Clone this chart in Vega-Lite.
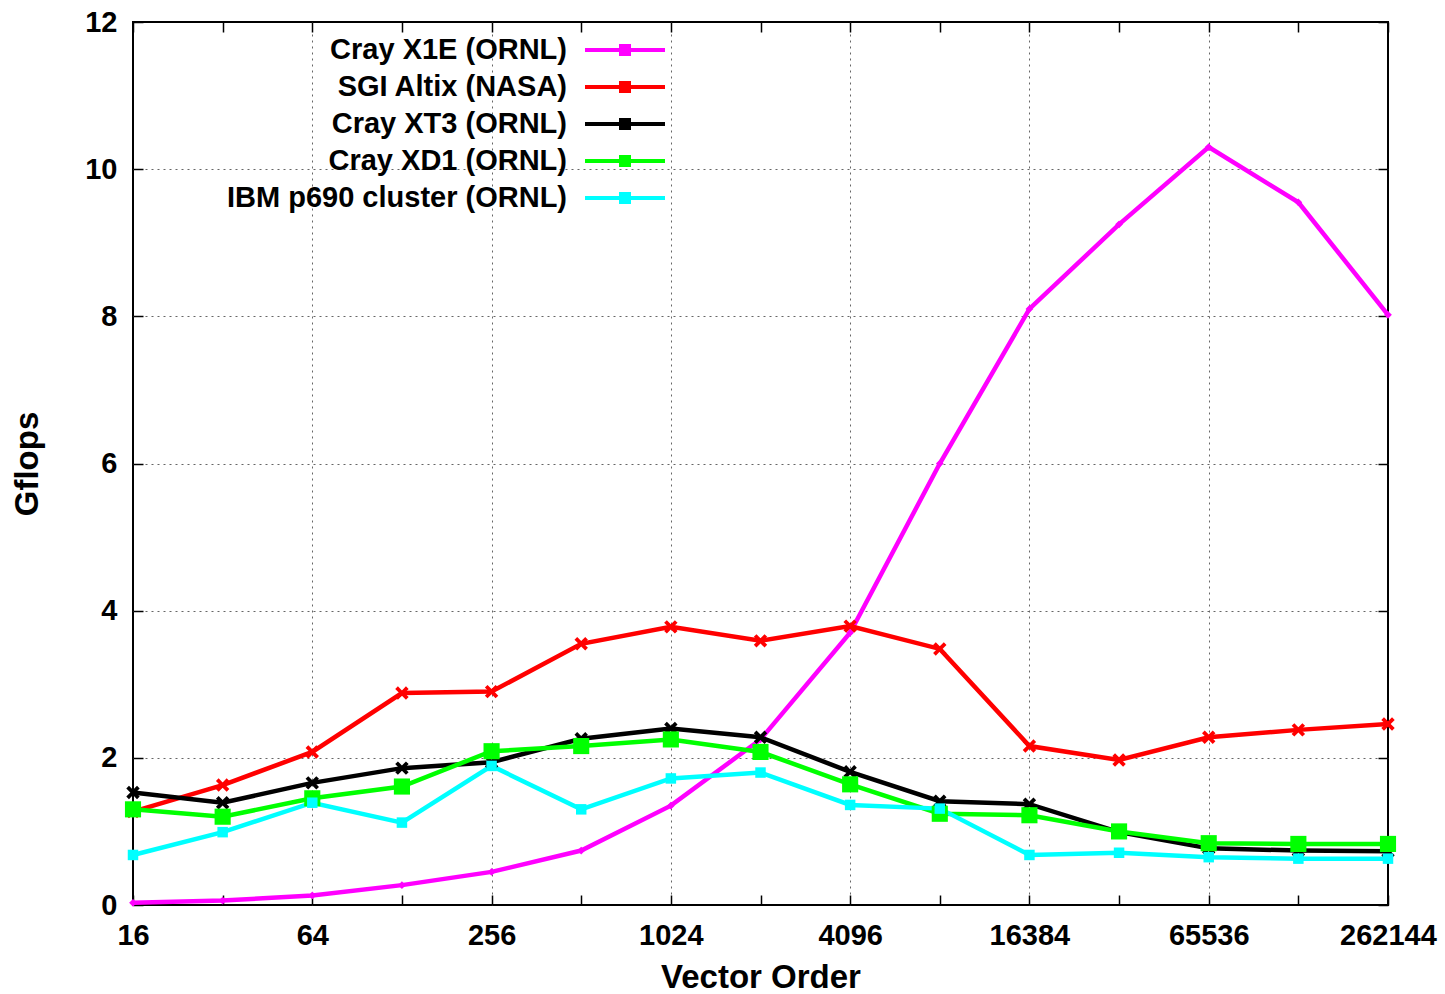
{
  "$schema": "https://vega.github.io/schema/vega-lite/v6.json",
  "width": 1255,
  "height": 883,
  "autosize": "none",
  "padding": {"left": 133, "top": 22, "right": 57, "bottom": 89},
  "background": "white",
  "config": {
    "view": {"stroke": "black", "strokeWidth": 2},
    "font": "Liberation Sans"
  },
  "data": {
    "values": [
      {"n": 16, "s": "Cray X1E (ORNL)", "g": 0.03},
      {"n": 32, "s": "Cray X1E (ORNL)", "g": 0.06},
      {"n": 64, "s": "Cray X1E (ORNL)", "g": 0.13},
      {"n": 128, "s": "Cray X1E (ORNL)", "g": 0.27},
      {"n": 256, "s": "Cray X1E (ORNL)", "g": 0.45},
      {"n": 512, "s": "Cray X1E (ORNL)", "g": 0.74},
      {"n": 1024, "s": "Cray X1E (ORNL)", "g": 1.35},
      {"n": 2048, "s": "Cray X1E (ORNL)", "g": 2.25},
      {"n": 4096, "s": "Cray X1E (ORNL)", "g": 3.7},
      {"n": 8192, "s": "Cray X1E (ORNL)", "g": 6.0},
      {"n": 16384, "s": "Cray X1E (ORNL)", "g": 8.1},
      {"n": 32768, "s": "Cray X1E (ORNL)", "g": 9.25},
      {"n": 65536, "s": "Cray X1E (ORNL)", "g": 10.3},
      {"n": 131072, "s": "Cray X1E (ORNL)", "g": 9.55},
      {"n": 262144, "s": "Cray X1E (ORNL)", "g": 8.02},
      {"n": 16, "s": "SGI Altix (NASA)", "g": 1.27},
      {"n": 32, "s": "SGI Altix (NASA)", "g": 1.63},
      {"n": 64, "s": "SGI Altix (NASA)", "g": 2.08},
      {"n": 128, "s": "SGI Altix (NASA)", "g": 2.88},
      {"n": 256, "s": "SGI Altix (NASA)", "g": 2.9},
      {"n": 512, "s": "SGI Altix (NASA)", "g": 3.55},
      {"n": 1024, "s": "SGI Altix (NASA)", "g": 3.78},
      {"n": 2048, "s": "SGI Altix (NASA)", "g": 3.59},
      {"n": 4096, "s": "SGI Altix (NASA)", "g": 3.79},
      {"n": 8192, "s": "SGI Altix (NASA)", "g": 3.48},
      {"n": 16384, "s": "SGI Altix (NASA)", "g": 2.16},
      {"n": 32768, "s": "SGI Altix (NASA)", "g": 1.97},
      {"n": 65536, "s": "SGI Altix (NASA)", "g": 2.28},
      {"n": 131072, "s": "SGI Altix (NASA)", "g": 2.38},
      {"n": 262144, "s": "SGI Altix (NASA)", "g": 2.46},
      {"n": 16, "s": "Cray XT3 (ORNL)", "g": 1.53},
      {"n": 32, "s": "Cray XT3 (ORNL)", "g": 1.39},
      {"n": 64, "s": "Cray XT3 (ORNL)", "g": 1.66},
      {"n": 128, "s": "Cray XT3 (ORNL)", "g": 1.86},
      {"n": 256, "s": "Cray XT3 (ORNL)", "g": 1.94},
      {"n": 512, "s": "Cray XT3 (ORNL)", "g": 2.26},
      {"n": 1024, "s": "Cray XT3 (ORNL)", "g": 2.4},
      {"n": 2048, "s": "Cray XT3 (ORNL)", "g": 2.28},
      {"n": 4096, "s": "Cray XT3 (ORNL)", "g": 1.81},
      {"n": 8192, "s": "Cray XT3 (ORNL)", "g": 1.41},
      {"n": 16384, "s": "Cray XT3 (ORNL)", "g": 1.37},
      {"n": 32768, "s": "Cray XT3 (ORNL)", "g": 0.99},
      {"n": 65536, "s": "Cray XT3 (ORNL)", "g": 0.77},
      {"n": 131072, "s": "Cray XT3 (ORNL)", "g": 0.74},
      {"n": 262144, "s": "Cray XT3 (ORNL)", "g": 0.73},
      {"n": 16, "s": "Cray XD1 (ORNL)", "g": 1.3},
      {"n": 32, "s": "Cray XD1 (ORNL)", "g": 1.2},
      {"n": 64, "s": "Cray XD1 (ORNL)", "g": 1.45},
      {"n": 128, "s": "Cray XD1 (ORNL)", "g": 1.61},
      {"n": 256, "s": "Cray XD1 (ORNL)", "g": 2.09},
      {"n": 512, "s": "Cray XD1 (ORNL)", "g": 2.16},
      {"n": 1024, "s": "Cray XD1 (ORNL)", "g": 2.25},
      {"n": 2048, "s": "Cray XD1 (ORNL)", "g": 2.08},
      {"n": 4096, "s": "Cray XD1 (ORNL)", "g": 1.64},
      {"n": 8192, "s": "Cray XD1 (ORNL)", "g": 1.24},
      {"n": 16384, "s": "Cray XD1 (ORNL)", "g": 1.22},
      {"n": 32768, "s": "Cray XD1 (ORNL)", "g": 1.0},
      {"n": 65536, "s": "Cray XD1 (ORNL)", "g": 0.84},
      {"n": 131072, "s": "Cray XD1 (ORNL)", "g": 0.83},
      {"n": 262144, "s": "Cray XD1 (ORNL)", "g": 0.83},
      {"n": 16, "s": "IBM p690 cluster (ORNL)", "g": 0.68},
      {"n": 32, "s": "IBM p690 cluster (ORNL)", "g": 0.99},
      {"n": 64, "s": "IBM p690 cluster (ORNL)", "g": 1.39},
      {"n": 128, "s": "IBM p690 cluster (ORNL)", "g": 1.12},
      {"n": 256, "s": "IBM p690 cluster (ORNL)", "g": 1.89},
      {"n": 512, "s": "IBM p690 cluster (ORNL)", "g": 1.3},
      {"n": 1024, "s": "IBM p690 cluster (ORNL)", "g": 1.72},
      {"n": 2048, "s": "IBM p690 cluster (ORNL)", "g": 1.8},
      {"n": 4096, "s": "IBM p690 cluster (ORNL)", "g": 1.36},
      {"n": 8192, "s": "IBM p690 cluster (ORNL)", "g": 1.31},
      {"n": 16384, "s": "IBM p690 cluster (ORNL)", "g": 0.68},
      {"n": 32768, "s": "IBM p690 cluster (ORNL)", "g": 0.71},
      {"n": 65536, "s": "IBM p690 cluster (ORNL)", "g": 0.65},
      {"n": 131072, "s": "IBM p690 cluster (ORNL)", "g": 0.63},
      {"n": 262144, "s": "IBM p690 cluster (ORNL)", "g": 0.63}
    ]
  },
  "resolve": {"axis": {"x": "independent", "y": "independent"}},
  "layer": [
    {
      "mark": {"type": "line", "strokeWidth": 4.5, "clip": false},
      "encoding": {
        "x": {
          "field": "n", "type": "quantitative",
          "scale": {"type": "log", "base": 2, "domain": [16, 262144], "nice": false, "zero": false},
          "axis": {
            "orient": "bottom",
            "values": [16, 32, 64, 128, 256, 512, 1024, 2048, 4096, 8192, 16384, 32768, 65536, 131072, 262144],
            "labelExpr": "indexof([16,64,256,1024,4096,16384,65536,262144], datum.value) >= 0 ? format(datum.value, 'd') : ''",
            "labelFont": "Liberation Sans",
            "labelFontWeight": "bold",
            "labelFontSize": 29,
            "labelColor": "black",
            "labelPadding": 26,
            "labelFlush": false,
            "labelOverlap": false,
            "tickSize": -10,
            "tickColor": "black",
            "tickWidth": 1.5,
            "domain": false,
            "grid": true,
            "gridDash": [2, 4],
            "gridColor": "#666",
            "gridWidth": 1,
            "gridOpacity": {"condition": {"test": "indexof([64,256,1024,4096,16384,65536], datum.value) >= 0", "value": 1}, "value": 0},
            "title": "Vector Order",
            "titleFont": "Liberation Sans",
            "titleFontWeight": "bold",
            "titleFontSize": 33,
            "titleColor": "black",
            "titlePadding": 11
          }
        },
        "y": {
          "field": "g", "type": "quantitative",
          "scale": {"domain": [0, 12], "nice": false},
          "axis": {
            "orient": "left",
            "values": [0, 2, 4, 6, 8, 10, 12],
            "labelFont": "Liberation Sans",
            "labelFontWeight": "bold",
            "labelFontSize": 29,
            "labelColor": "black",
            "labelPadding": 26,
            "labelFlush": false,
            "tickSize": -10,
            "tickColor": "black",
            "tickWidth": 1.5,
            "domain": false,
            "grid": true,
            "gridDash": [2, 4],
            "gridColor": "#666",
            "gridWidth": 1,
            "gridOpacity": {"condition": {"test": "datum.value > 0 && datum.value < 12", "value": 1}, "value": 0},
            "title": "Gflops",
            "titleFont": "Liberation Sans",
            "titleFontWeight": "bold",
            "titleFontSize": 33,
            "titleColor": "black",
            "titlePadding": 40
          }
        },
        "color": {
          "field": "s", "type": "nominal",
          "scale": {
            "domain": ["Cray X1E (ORNL)", "SGI Altix (NASA)", "Cray XT3 (ORNL)", "Cray XD1 (ORNL)", "IBM p690 cluster (ORNL)"],
            "range": ["#ff00ff", "#ff0000", "#000000", "#00ff00", "#00ffff"]
          },
          "legend": {
            "orient": "none",
            "legendX": 470,
            "legendY": 6,
            "title": null,
            "padding": 0,
            "symbolType": "M-2,0H2M-0.2,-0.2H0.2V0.2H-0.2Z",
            "symbolSize": 1600,
            "symbolStrokeWidth": 4,
            "labelAlign": "right",
            "labelOffset": -80,
            "labelFont": "Liberation Sans",
            "labelFontWeight": "bold",
            "labelFontSize": 29,
            "labelColor": "black",
            "labelLimit": 600,
            "rowPadding": -1
          }
        }
      }
    },
    {
      "transform": [{"filter": "datum.s == 'Cray X1E (ORNL)'"}],
      "mark": {"type": "point", "filled": true, "opacity": 1, "clip": false, "shape": "diamond", "size": 60, "color": "#ff00ff"},
      "encoding": {
        "x": {"field": "n", "type": "quantitative", "axis": null},
        "y": {"field": "g", "type": "quantitative", "axis": null}
      }
    },
    {
      "transform": [{"filter": "datum.s == 'SGI Altix (NASA)'"}],
      "mark": {"type": "point", "filled": true, "opacity": 1, "clip": false, "shape": "M-1,-0.6L-0.6,-1L0,-0.4L0.6,-1L1,-0.6L0.4,0L1,0.6L0.6,1L0,0.4L-0.6,1L-1,0.6L-0.4,0Z", "size": 180, "color": "#ff0000"},
      "encoding": {
        "x": {"field": "n", "type": "quantitative", "axis": null},
        "y": {"field": "g", "type": "quantitative", "axis": null}
      }
    },
    {
      "transform": [{"filter": "datum.s == 'Cray XT3 (ORNL)'"}],
      "mark": {"type": "point", "filled": true, "opacity": 1, "clip": false, "shape": "M-1,-0.6L-0.6,-1L0,-0.4L0.6,-1L1,-0.6L0.4,0L1,0.6L0.6,1L0,0.4L-0.6,1L-1,0.6L-0.4,0Z", "size": 180, "color": "#000000"},
      "encoding": {
        "x": {"field": "n", "type": "quantitative", "axis": null},
        "y": {"field": "g", "type": "quantitative", "axis": null}
      }
    },
    {
      "transform": [{"filter": "datum.s == 'Cray XD1 (ORNL)'"}],
      "mark": {"type": "point", "filled": true, "opacity": 1, "clip": false, "shape": "square", "size": 260, "color": "#00ff00"},
      "encoding": {
        "x": {"field": "n", "type": "quantitative", "axis": null},
        "y": {"field": "g", "type": "quantitative", "axis": null}
      }
    },
    {
      "transform": [{"filter": "datum.s == 'IBM p690 cluster (ORNL)'"}],
      "mark": {"type": "point", "filled": true, "opacity": 1, "clip": false, "shape": "square", "size": 110, "color": "#00ffff"},
      "encoding": {
        "x": {"field": "n", "type": "quantitative", "axis": null},
        "y": {"field": "g", "type": "quantitative", "axis": null}
      }
    },
    {
      "mark": {"type": "point", "opacity": 0},
      "encoding": {
        "x": {
          "field": "n", "type": "quantitative",
          "axis": {
            "orient": "top",
            "values": [16, 32, 64, 128, 256, 512, 1024, 2048, 4096, 8192, 16384, 32768, 65536, 131072, 262144],
            "labels": false, "grid": false, "domain": false, "title": null,
            "tickSize": -10, "tickColor": "black", "tickWidth": 1.5
          }
        },
        "y": {
          "field": "g", "type": "quantitative",
          "axis": {
            "orient": "right",
            "values": [0, 2, 4, 6, 8, 10, 12],
            "labels": false, "grid": false, "domain": false, "title": null,
            "tickSize": -10, "tickColor": "black", "tickWidth": 1.5
          }
        }
      }
    }
  ]
}
